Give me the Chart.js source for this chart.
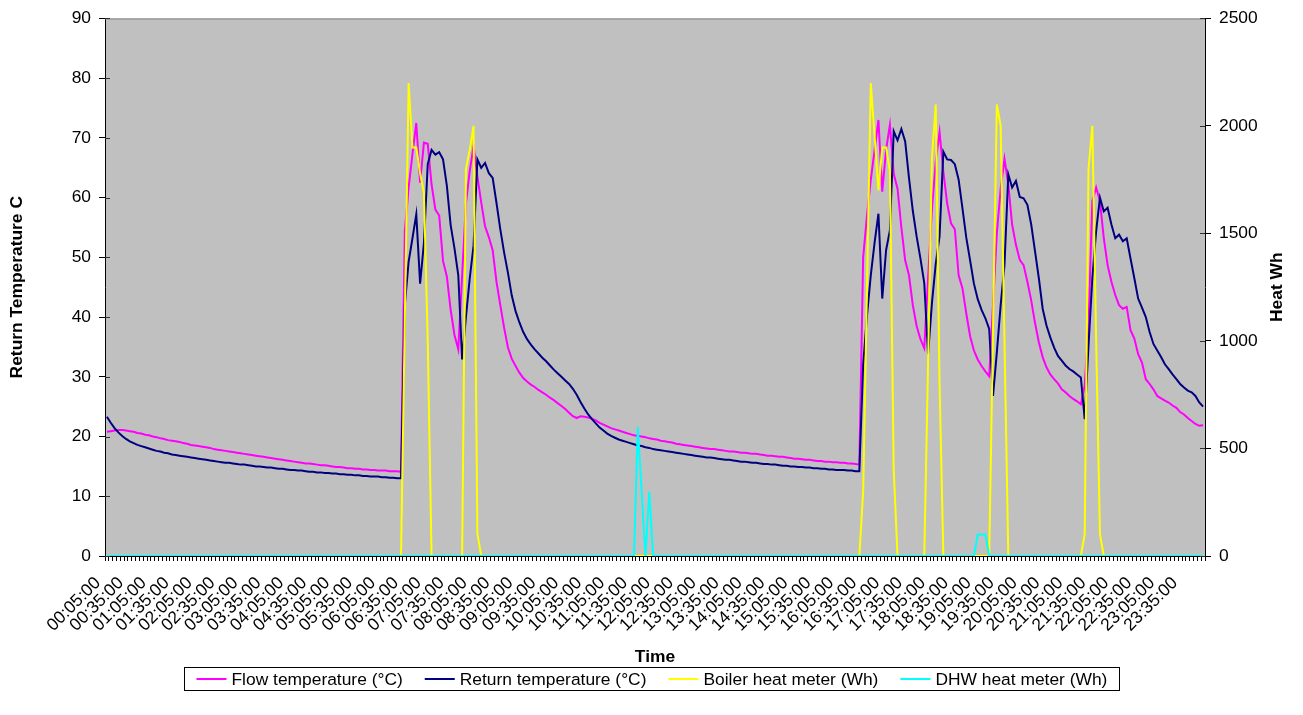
<!DOCTYPE html>
<html>
<head>
<meta charset="utf-8">
<script src="https://cdn.jsdelivr.net/npm/chart.js@4.4.0/dist/chart.umd.min.js"></script>
<style>
  html, body { margin: 0; padding: 0; background: #fff; }
  #wrap { width: 1303px; height: 715px; }
</style>
</head>
<body>
<div id="wrap"><canvas id="chart" width="1303" height="715"></canvas></div>
<script>
// Categories: one reading every 5 minutes, one row per hour
const timeLabels = [
  "00:05:00","00:10:00","00:15:00","00:20:00","00:25:00","00:30:00","00:35:00","00:40:00","00:45:00","00:50:00","00:55:00","01:00:00",
  "01:05:00","01:10:00","01:15:00","01:20:00","01:25:00","01:30:00","01:35:00","01:40:00","01:45:00","01:50:00","01:55:00","02:00:00",
  "02:05:00","02:10:00","02:15:00","02:20:00","02:25:00","02:30:00","02:35:00","02:40:00","02:45:00","02:50:00","02:55:00","03:00:00",
  "03:05:00","03:10:00","03:15:00","03:20:00","03:25:00","03:30:00","03:35:00","03:40:00","03:45:00","03:50:00","03:55:00","04:00:00",
  "04:05:00","04:10:00","04:15:00","04:20:00","04:25:00","04:30:00","04:35:00","04:40:00","04:45:00","04:50:00","04:55:00","05:00:00",
  "05:05:00","05:10:00","05:15:00","05:20:00","05:25:00","05:30:00","05:35:00","05:40:00","05:45:00","05:50:00","05:55:00","06:00:00",
  "06:05:00","06:10:00","06:15:00","06:20:00","06:25:00","06:30:00","06:35:00","06:40:00","06:45:00","06:50:00","06:55:00","07:00:00",
  "07:05:00","07:10:00","07:15:00","07:20:00","07:25:00","07:30:00","07:35:00","07:40:00","07:45:00","07:50:00","07:55:00","08:00:00",
  "08:05:00","08:10:00","08:15:00","08:20:00","08:25:00","08:30:00","08:35:00","08:40:00","08:45:00","08:50:00","08:55:00","09:00:00",
  "09:05:00","09:10:00","09:15:00","09:20:00","09:25:00","09:30:00","09:35:00","09:40:00","09:45:00","09:50:00","09:55:00","10:00:00",
  "10:05:00","10:10:00","10:15:00","10:20:00","10:25:00","10:30:00","10:35:00","10:40:00","10:45:00","10:50:00","10:55:00","11:00:00",
  "11:05:00","11:10:00","11:15:00","11:20:00","11:25:00","11:30:00","11:35:00","11:40:00","11:45:00","11:50:00","11:55:00","12:00:00",
  "12:05:00","12:10:00","12:15:00","12:20:00","12:25:00","12:30:00","12:35:00","12:40:00","12:45:00","12:50:00","12:55:00","13:00:00",
  "13:05:00","13:10:00","13:15:00","13:20:00","13:25:00","13:30:00","13:35:00","13:40:00","13:45:00","13:50:00","13:55:00","14:00:00",
  "14:05:00","14:10:00","14:15:00","14:20:00","14:25:00","14:30:00","14:35:00","14:40:00","14:45:00","14:50:00","14:55:00","15:00:00",
  "15:05:00","15:10:00","15:15:00","15:20:00","15:25:00","15:30:00","15:35:00","15:40:00","15:45:00","15:50:00","15:55:00","16:00:00",
  "16:05:00","16:10:00","16:15:00","16:20:00","16:25:00","16:30:00","16:35:00","16:40:00","16:45:00","16:50:00","16:55:00","17:00:00",
  "17:05:00","17:10:00","17:15:00","17:20:00","17:25:00","17:30:00","17:35:00","17:40:00","17:45:00","17:50:00","17:55:00","18:00:00",
  "18:05:00","18:10:00","18:15:00","18:20:00","18:25:00","18:30:00","18:35:00","18:40:00","18:45:00","18:50:00","18:55:00","19:00:00",
  "19:05:00","19:10:00","19:15:00","19:20:00","19:25:00","19:30:00","19:35:00","19:40:00","19:45:00","19:50:00","19:55:00","20:00:00",
  "20:05:00","20:10:00","20:15:00","20:20:00","20:25:00","20:30:00","20:35:00","20:40:00","20:45:00","20:50:00","20:55:00","21:00:00",
  "21:05:00","21:10:00","21:15:00","21:20:00","21:25:00","21:30:00","21:35:00","21:40:00","21:45:00","21:50:00","21:55:00","22:00:00",
  "22:05:00","22:10:00","22:15:00","22:20:00","22:25:00","22:30:00","22:35:00","22:40:00","22:45:00","22:50:00","22:55:00","23:00:00",
  "23:05:00","23:10:00","23:15:00","23:20:00","23:25:00","23:30:00","23:35:00","23:40:00","23:45:00","23:50:00","23:55:00","00:00:00"
]

// Labels that are printed under the axis (every half hour)
const shownTicks = [
  "00:05:00","00:35:00","01:05:00","01:35:00","02:05:00","02:35:00","03:05:00","03:35:00",
  "04:05:00","04:35:00","05:05:00","05:35:00","06:05:00","06:35:00","07:05:00","07:35:00",
  "08:05:00","08:35:00","09:05:00","09:35:00","10:05:00","10:35:00","11:05:00","11:35:00",
  "12:05:00","12:35:00","13:05:00","13:35:00","14:05:00","14:35:00","15:05:00","15:35:00",
  "16:05:00","16:35:00","17:05:00","17:35:00","18:05:00","18:35:00","19:05:00","19:35:00",
  "20:05:00","20:35:00","21:05:00","21:35:00","22:05:00","22:35:00","23:05:00","23:35:00"
]

const seriesNames = ["Flow temperature (°C)", "Return temperature (°C)", "Boiler heat meter (Wh)", "DHW heat meter (Wh)"]
const seriesColors = ["#ff00ff", "#000080", "#ffff00", "#00ffff"]

// Flow temperature (°C)
const flowTemp = [
  20.8, 20.9, 21.0, 21.1, 21.1, 21.0, 20.9, 20.8, 20.6, 20.5, 20.3, 20.2,
  20.0, 19.9, 19.7, 19.6, 19.4, 19.3, 19.2, 19.1, 18.9, 18.8, 18.6, 18.5,
  18.4, 18.3, 18.2, 18.1, 17.9, 17.8, 17.7, 17.6, 17.5, 17.4, 17.3, 17.2,
  17.1, 17.0, 16.9, 16.8, 16.7, 16.6, 16.5, 16.4, 16.3, 16.2, 16.1, 16.0,
  15.9, 15.8, 15.7, 15.6, 15.5, 15.5, 15.4, 15.3, 15.2, 15.2, 15.1, 15.0,
  14.9, 14.9, 14.8, 14.7, 14.7, 14.6, 14.6, 14.5, 14.5, 14.4, 14.4, 14.3,
  14.3, 14.3, 14.2, 14.2, 14.2, 14.1, 54.4, 61.7, 67.3, 72.5, 62.5, 69.2,
  69.0, 62.2, 58.0, 57.0, 49.4, 46.8, 41.2, 37.0, 34.6, 47.0, 59.0, 64.5,
  68.6, 63.5, 59.2, 55.2, 53.4, 51.2, 45.9, 42.0, 38.2, 34.9, 33.0, 31.8,
  30.7, 29.8, 29.2, 28.7, 28.3, 27.8, 27.4, 27.0, 26.5, 26.1, 25.6, 25.1,
  24.6, 24.0, 23.4, 23.1, 23.4, 23.3, 23.2, 23.0, 22.7, 22.3, 22.0, 21.7,
  21.4, 21.2, 21.0, 20.8, 20.6, 20.4, 20.2, 20.1, 20.0, 19.9, 19.7, 19.6,
  19.5, 19.3, 19.2, 19.1, 19.0, 18.8, 18.7, 18.6, 18.5, 18.4, 18.3, 18.2,
  18.1, 18.0, 17.9, 17.9, 17.8, 17.7, 17.6, 17.5, 17.5, 17.4, 17.3, 17.3,
  17.2, 17.1, 17.1, 17.0, 16.9, 16.8, 16.8, 16.7, 16.6, 16.6, 16.5, 16.4,
  16.3, 16.3, 16.2, 16.1, 16.1, 16.0, 15.9, 15.9, 15.8, 15.8, 15.7, 15.7,
  15.6, 15.6, 15.5, 15.5, 15.4, 15.3, 50.0, 57.0, 63.0, 68.0, 73.0, 61.0,
  68.0, 72.2, 64.0, 61.5, 55.0, 49.5, 47.0, 42.0, 38.5, 36.3, 34.8, 46.5,
  58.0, 66.0, 71.0, 64.3, 59.0, 55.7, 54.7, 47.0, 44.8, 40.6, 36.8, 34.4,
  32.9, 31.8, 30.9, 30.1, 42.0, 54.0, 61.5, 66.5, 62.2, 55.5, 52.1, 49.6,
  48.7, 45.9, 42.8, 39.0, 35.8, 33.3, 31.6, 30.4, 29.6, 28.9, 27.9, 27.4,
  26.8, 26.3, 25.9, 25.4, 28.5, 38.6, 59.4, 61.7, 59.4, 53.2, 48.7, 45.9,
  43.7, 42.0, 41.4, 41.7, 37.8, 36.4, 33.8, 32.4, 29.6, 28.8, 27.9, 26.8,
  26.4, 26.0, 25.7, 25.2, 24.8, 24.1, 23.7, 23.1, 22.6, 22.1, 21.8, 21.9
]

// Return temperature (°C)
const returnTemp = [
  23.3, 22.3, 21.4, 20.7, 20.1, 19.6, 19.2, 18.9, 18.6, 18.4, 18.2, 18.0,
  17.8, 17.6, 17.5, 17.3, 17.2, 17.0, 16.9, 16.8, 16.7, 16.6, 16.5, 16.4,
  16.3, 16.2, 16.1, 16.0, 15.9, 15.8, 15.7, 15.6, 15.6, 15.5, 15.4, 15.3,
  15.3, 15.2, 15.1, 15.0, 15.0, 14.9, 14.8, 14.8, 14.7, 14.6, 14.6, 14.5,
  14.4, 14.4, 14.3, 14.3, 14.2, 14.1, 14.1, 14.0, 14.0, 13.9, 13.9, 13.8,
  13.8, 13.7, 13.7, 13.6, 13.6, 13.5, 13.5, 13.4, 13.4, 13.3, 13.3, 13.3,
  13.2, 13.2, 13.1, 13.1, 13.0, 13.0, 42.0, 49.3, 53.2, 57.2, 45.6, 52.4,
  65.6, 68.0, 67.2, 67.6, 66.4, 62.0, 55.4, 51.5, 47.0, 32.9, 40.0, 46.5,
  52.0, 66.4, 65.0, 65.8, 64.1, 63.3, 59.1, 54.7, 50.8, 47.4, 43.6, 41.0,
  39.1, 37.5, 36.3, 35.4, 34.6, 33.9, 33.2, 32.6, 31.9, 31.2, 30.6, 30.0,
  29.4, 28.8, 28.0, 27.0, 25.8, 24.7, 23.7, 22.9, 22.2, 21.5, 21.0, 20.5,
  20.1, 19.8, 19.5, 19.3, 19.1, 18.9, 18.7, 18.5, 18.4, 18.2, 18.1, 17.9,
  17.8, 17.7, 17.6, 17.5, 17.4, 17.3, 17.2, 17.1, 17.0, 16.9, 16.8, 16.7,
  16.6, 16.5, 16.5, 16.4, 16.3, 16.2, 16.1, 16.1, 16.0, 15.9, 15.8, 15.8,
  15.7, 15.6, 15.6, 15.5, 15.4, 15.4, 15.3, 15.3, 15.2, 15.1, 15.1, 15.0,
  15.0, 14.9, 14.9, 14.8, 14.8, 14.7, 14.7, 14.6, 14.6, 14.5, 14.5, 14.4,
  14.4, 14.4, 14.3, 14.3, 14.2, 14.2, 32.0, 40.2, 47.0, 52.5, 57.3, 43.1,
  51.2, 54.5, 71.1, 69.6, 71.5, 69.4, 63.3, 57.8, 53.5, 49.8, 45.7, 33.8,
  42.3, 48.9, 53.5, 67.7, 66.4, 66.3, 65.6, 63.0, 58.2, 53.3, 49.5, 45.6,
  43.0, 41.2, 39.8, 38.0, 26.8, 34.1, 42.0, 48.7, 63.9, 61.7, 62.8, 60.1,
  59.9, 58.8, 55.5, 51.0, 46.5, 41.4, 38.6, 36.6, 34.9, 33.5, 32.7, 31.9,
  31.3, 30.9, 30.4, 29.9, 22.9, 35.2, 46.5, 54.4, 60.0, 57.7, 58.3, 55.5,
  53.2, 53.8, 52.7, 53.2, 49.8, 46.5, 43.1, 41.6, 40.0, 37.5, 35.5, 34.4,
  33.3, 32.1, 31.3, 30.4, 29.6, 28.8, 28.2, 27.7, 27.4, 26.8, 25.7, 25.0
]

// Boiler heat meter (Wh)
const boilerHeat = [
  0, 0, 0, 0, 0, 0, 0, 0, 0, 0, 0, 0,
  0, 0, 0, 0, 0, 0, 0, 0, 0, 0, 0, 0,
  0, 0, 0, 0, 0, 0, 0, 0, 0, 0, 0, 0,
  0, 0, 0, 0, 0, 0, 0, 0, 0, 0, 0, 0,
  0, 0, 0, 0, 0, 0, 0, 0, 0, 0, 0, 0,
  0, 0, 0, 0, 0, 0, 0, 0, 0, 0, 0, 0,
  0, 0, 0, 0, 0, 0, 1100, 2200, 1900, 1900, 1780, 1690,
  1000, 0, 0, 0, 0, 0, 0, 0, 0, 0, 1800, 1890,
  2000, 105, 0, 0, 0, 0, 0, 0, 0, 0, 0, 0,
  0, 0, 0, 0, 0, 0, 0, 0, 0, 0, 0, 0,
  0, 0, 0, 0, 0, 0, 0, 0, 0, 0, 0, 0,
  0, 0, 0, 0, 0, 0, 0, 0, 0, 0, 0, 0,
  0, 0, 0, 0, 0, 0, 0, 0, 0, 0, 0, 0,
  0, 0, 0, 0, 0, 0, 0, 0, 0, 0, 0, 0,
  0, 0, 0, 0, 0, 0, 0, 0, 0, 0, 0, 0,
  0, 0, 0, 0, 0, 0, 0, 0, 0, 0, 0, 0,
  0, 0, 0, 0, 0, 0, 300, 1250, 2200, 1950, 1700, 1900,
  1900, 1790, 400, 0, 0, 0, 0, 0, 0, 0, 0, 900,
  1850, 2100, 800, 0, 0, 0, 0, 0, 0, 0, 0, 0,
  0, 0, 0, 0, 1050, 2100, 2000, 1000, 0, 0, 0, 0,
  0, 0, 0, 0, 0, 0, 0, 0, 0, 0, 0, 0,
  0, 0, 0, 0, 100, 1800, 2000, 1000, 100, 0, 0, 0,
  0, 0, 0, 0, 0, 0, 0, 0, 0, 0, 0, 0,
  0, 0, 0, 0, 0, 0, 0, 0, 0, 0, 0, 0
]

// DHW heat meter (Wh)
const dhwHeat = [
  0, 0, 0, 0, 0, 0, 0, 0, 0, 0, 0, 0,
  0, 0, 0, 0, 0, 0, 0, 0, 0, 0, 0, 0,
  0, 0, 0, 0, 0, 0, 0, 0, 0, 0, 0, 0,
  0, 0, 0, 0, 0, 0, 0, 0, 0, 0, 0, 0,
  0, 0, 0, 0, 0, 0, 0, 0, 0, 0, 0, 0,
  0, 0, 0, 0, 0, 0, 0, 0, 0, 0, 0, 0,
  0, 0, 0, 0, 0, 0, 0, 0, 0, 0, 0, 0,
  0, 0, 0, 0, 0, 0, 0, 0, 0, 0, 0, 0,
  0, 0, 0, 0, 0, 0, 0, 0, 0, 0, 0, 0,
  0, 0, 0, 0, 0, 0, 0, 0, 0, 0, 0, 0,
  0, 0, 0, 0, 0, 0, 0, 0, 0, 0, 0, 0,
  0, 0, 0, 0, 0, 0, 0, 600, 300, 0, 300, 0,
  0, 0, 0, 0, 0, 0, 0, 0, 0, 0, 0, 0,
  0, 0, 0, 0, 0, 0, 0, 0, 0, 0, 0, 0,
  0, 0, 0, 0, 0, 0, 0, 0, 0, 0, 0, 0,
  0, 0, 0, 0, 0, 0, 0, 0, 0, 0, 0, 0,
  0, 0, 0, 0, 0, 0, 0, 0, 0, 0, 0, 0,
  0, 0, 0, 0, 0, 0, 0, 0, 0, 0, 0, 0,
  0, 0, 0, 0, 0, 0, 0, 0, 0, 0, 0, 0,
  100, 100, 100, 0, 0, 0, 0, 0, 0, 0, 0, 0,
  0, 0, 0, 0, 0, 0, 0, 0, 0, 0, 0, 0,
  0, 0, 0, 0, 0, 0, 0, 0, 0, 0, 0, 0,
  0, 0, 0, 0, 0, 0, 0, 0, 0, 0, 0, 0,
  0, 0, 0, 0, 0, 0, 0, 0, 0, 0, 0, 0
]

// Axis ranges
const tempAxis = { min: 0, max: 90, step: 10 }
const heatAxis = { min: 0, max: 2500, step: 500 }

const FONT = "'Liberation Sans', Arial, Helvetica, sans-serif"
const FONT_SIZE = 17.4

Chart.defaults.font.family = FONT
Chart.defaults.font.size = FONT_SIZE
Chart.defaults.color = "#000"

// Grey plot area, frame, axis titles and boxed legend
const excelFrame = {
  id: "excelFrame",
  beforeDraw(chart) {
    const { ctx, chartArea: a } = chart
    ctx.save()
    ctx.fillStyle = "#c0c0c0"
    ctx.fillRect(a.left, a.top, a.right - a.left, a.bottom - a.top)
    ctx.restore()
  },
  beforeDatasetsDraw(chart) {
    const { ctx, chartArea: a, scales } = chart
    ctx.save()
    ctx.strokeStyle = "#808080"
    ctx.lineWidth = 1
    ctx.beginPath()
    ctx.moveTo(a.left, a.top + 0.5)
    ctx.lineTo(a.right, a.top + 0.5)
    ctx.stroke()
    // small inner halves of the cross tick marks
    ctx.strokeStyle = "#303030"
    scales.y.ticks.forEach((t) => {
      const y = Math.round(scales.y.getPixelForValue(t.value)) + 0.5
      ctx.beginPath()
      ctx.moveTo(a.left, y)
      ctx.lineTo(a.left + 5, y)
      ctx.stroke()
    })
    scales.y1.ticks.forEach((t) => {
      const y = Math.round(scales.y1.getPixelForValue(t.value)) + 0.5
      ctx.beginPath()
      ctx.moveTo(a.right - 5, y)
      ctx.lineTo(a.right, y)
      ctx.stroke()
    })
    ctx.restore()
  },
  afterDraw(chart) {
    const { ctx, chartArea: a } = chart
    const midY = (a.top + a.bottom) / 2
    ctx.save()
    ctx.fillStyle = "#000"
    ctx.textAlign = "center"
    ctx.textBaseline = "middle"
    ctx.font = `bold ${FONT_SIZE}px ${FONT}`

    ctx.save()
    ctx.translate(17, midY)
    ctx.rotate(-Math.PI / 2)
    ctx.fillText("Return Temperature C", 0, 0)
    ctx.restore()

    ctx.save()
    ctx.translate(1277, midY)
    ctx.rotate(-Math.PI / 2)
    ctx.fillText("Heat Wh", 0, 0)
    ctx.restore()

    ctx.fillText("Time", (a.left + a.right) / 2, 657)

    // legend
    ctx.font = `${FONT_SIZE}px ${FONT}`
    const sample = 30
    const gapIn = 5
    const gapOut = 22
    const padX = 12
    const widths = seriesNames.map((t) => ctx.measureText(t).width)
    const inner = widths.reduce((s, w) => s + w, 0) + seriesNames.length * (sample + gapIn) + (seriesNames.length - 1) * gapOut
    const boxW = Math.round(inner + 2 * padX)
    const boxX = Math.round(chart.width / 2 - boxW / 2) + 0.5
    const boxY = 667.5
    const boxH = 23
    ctx.strokeStyle = "#000"
    ctx.lineWidth = 1
    ctx.strokeRect(boxX, boxY, boxW, boxH)

    const cy = boxY + boxH / 2
    let x = boxX + padX
    ctx.textAlign = "left"
    seriesNames.forEach((name, k) => {
      ctx.strokeStyle = seriesColors[k]
      ctx.lineWidth = 2
      ctx.beginPath()
      ctx.moveTo(x, cy)
      ctx.lineTo(x + sample, cy)
      ctx.stroke()
      x += sample + gapIn
      ctx.fillStyle = "#000"
      ctx.fillText(name, x, cy + 1)
      x += widths[k] + gapOut
    })
    ctx.restore()
  }
}

function makeDataset(k, data, axis, order) {
  return {
    label: seriesNames[k],
    data: data,
    yAxisID: axis,
    borderColor: seriesColors[k],
    backgroundColor: seriesColors[k],
    borderWidth: 2,
    pointRadius: 0,
    pointHoverRadius: 0,
    tension: 0,
    fill: false,
    order: order,
  }
}

const ctx = document.getElementById("chart")

new Chart(ctx, {
  type: "line",
  data: {
    labels: timeLabels,
    datasets: [
      makeDataset(0, flowTemp, "y", 4),
      makeDataset(1, returnTemp, "y", 3),
      makeDataset(2, boilerHeat, "y1", 2),
      makeDataset(3, dhwHeat, "y1", 1),
    ],
  },
  options: {
    responsive: false,
    animation: false,
    events: [],
    layout: { padding: { top: 15, left: 0, right: 0, bottom: 0 } },
    plugins: {
      legend: { display: false },
      tooltip: { enabled: false },
    },
    scales: {
      x: {
        type: "category",
        offset: true,
        grid: { drawOnChartArea: false, drawTicks: true, tickLength: 5, color: "#000", offset: true },
        border: { color: "#000", width: 1 },
        ticks: {
          autoSkip: false,
          minRotation: 45,
          maxRotation: 45,
          padding: 12,
          labelOffset: -9,
          color: "#000",
          callback: function (value) {
            const label = this.getLabelForValue(value)
            return shownTicks.includes(label) ? label : ""
          },
        },
        afterFit: (scale) => {
          scale.height = 159
        },
      },
      y: {
        position: "left",
        min: tempAxis.min,
        max: tempAxis.max,
        grid: { drawOnChartArea: false, drawTicks: true, tickLength: 6, color: "#000" },
        border: { color: "#000", width: 1 },
        ticks: { stepSize: tempAxis.step, padding: 8, color: "#000" },
        afterFit: (scale) => {
          scale.width = 105
        },
      },
      y1: {
        position: "right",
        min: heatAxis.min,
        max: heatAxis.max,
        grid: { drawOnChartArea: false, drawTicks: true, tickLength: 6, color: "#000" },
        border: { color: "#000", width: 1 },
        ticks: { stepSize: heatAxis.step, padding: 8, color: "#000", callback: (v) => String(v) },
        afterFit: (scale) => {
          scale.width = 98
        },
      },
    },
  },
  plugins: [excelFrame],
})
</script>
</body>
</html>
